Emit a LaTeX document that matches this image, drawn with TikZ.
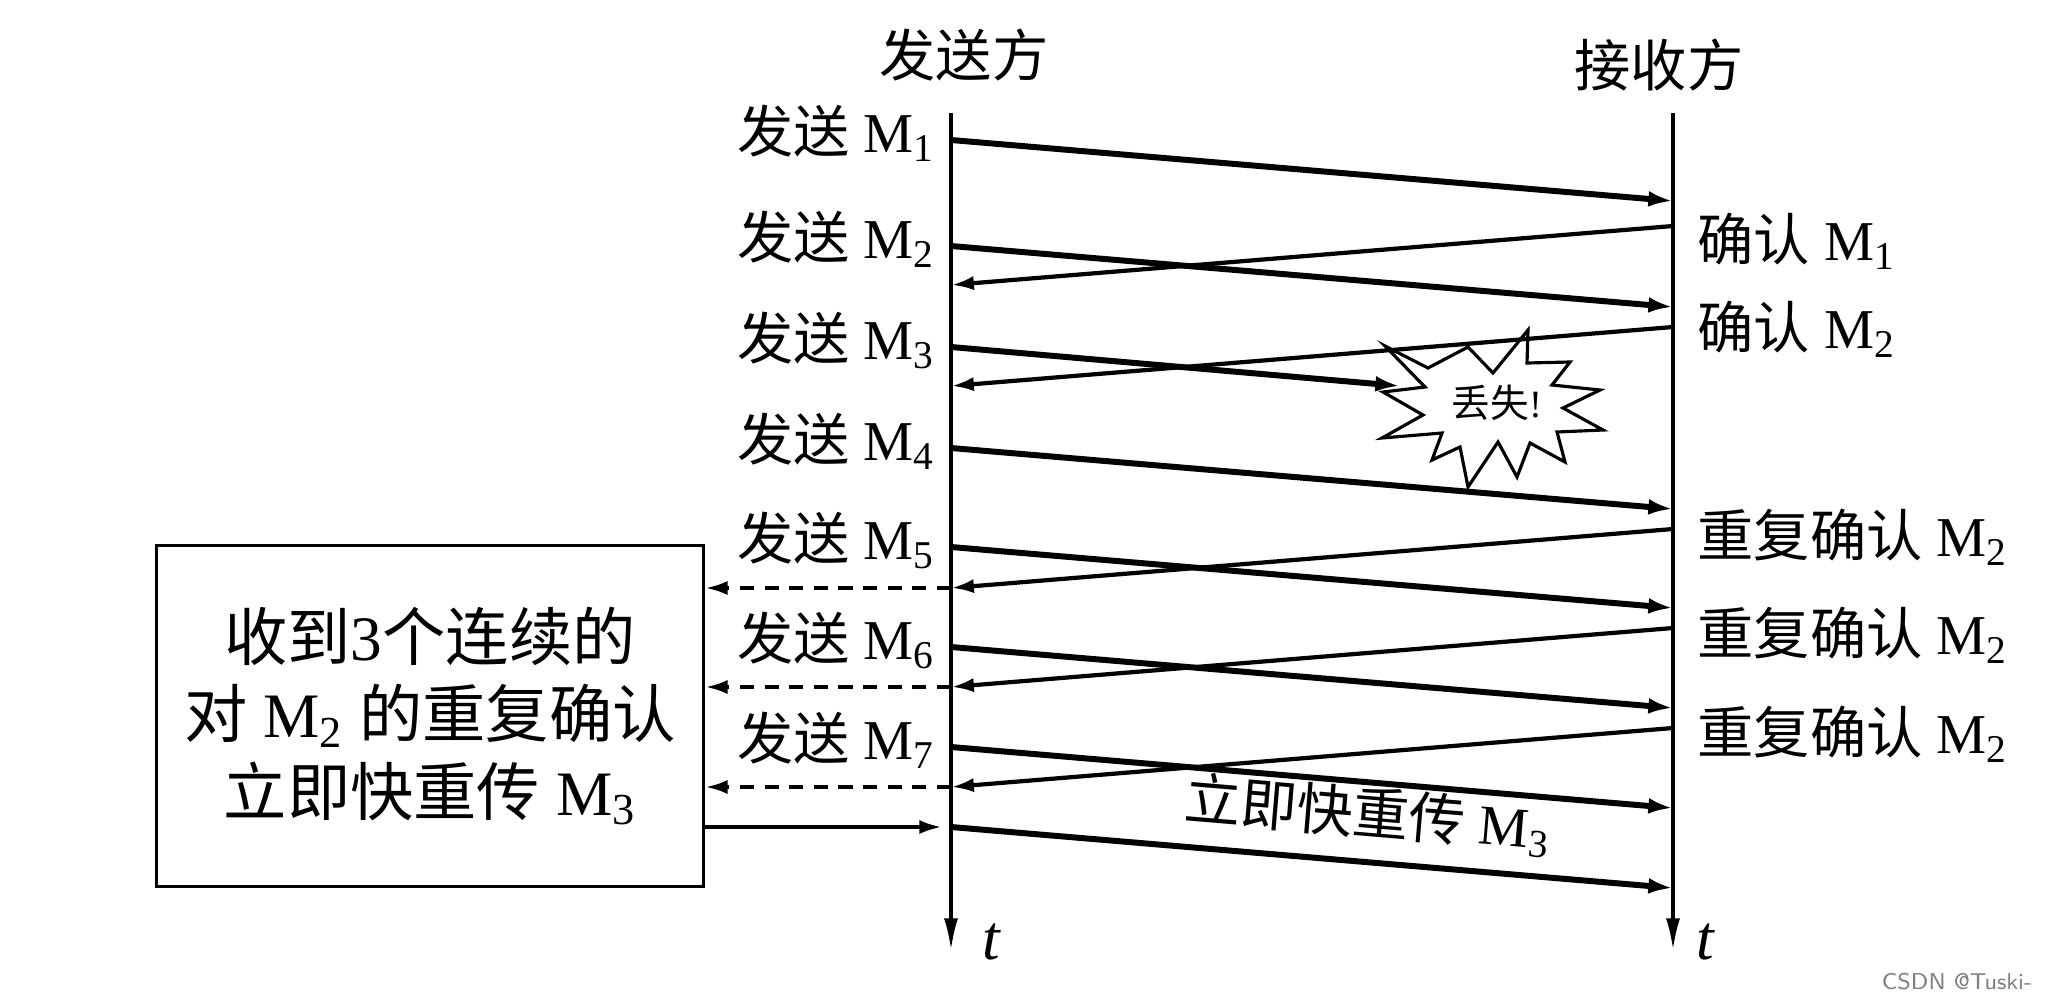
\documentclass[tikz,border=0pt]{standalone}
\usepackage{fontspec}
\setmainfont{Liberation Serif}
\newfontfamily\cjk{Noto Sans CJK SC}
\usetikzlibrary{arrows.meta}

\newcommand{\Msg}[1]{M\textsubscript{#1}}

\begin{document}
\begin{tikzpicture}[x=0.01cm, y=-0.01cm,
    timeline/.style={line width=0.9pt, -{Latex[length=9pt,width=4pt]}},
    sendline/.style={line width=1.7pt, -{Latex[length=7pt,width=4.5pt]}},
    ackline/.style={line width=1.2pt, -{Latex[length=6.5pt,width=4pt]}},
    dupline/.style={ackline, dash pattern=on 4pt off 3pt},
    lbl/.style={font=\fontsize{16}{18}\selectfont, inner sep=0pt},
    tlbl/.style={font=\fontsize{18}{20}\selectfont\itshape, inner sep=0pt},
    boxtext/.style={draw, line width=0.9pt, align=center, font=\fontsize{18}{22}\selectfont,
        minimum width=5.46cm, minimum height=3.41cm},
    burst/.style={draw, line width=0.9pt, fill=white, line join=miter}]
    % --- 定义坐标和参数 ---
    \def\sx{951}     % 发送方时间轴
    \def\rx{1673}    % 接收方时间轴
    \def\sdrop{61}   % 报文段下降量
    \def\adrop{59}   % 确认下降量

    \useasboundingbox (0,0) rectangle (2052,1000);

    % --- 时间轴 ---
    \coordinate (sTop) at (\sx,113);
    \coordinate (sEnd) at (\sx,950);
    \coordinate (rTop) at (\rx,113);
    \coordinate (rEnd) at (\rx,950);
    \draw[timeline] (sTop) -- (sEnd);
    \draw[timeline] (rTop) -- (rEnd);
    \node[tlbl] (sT) at (991,942) {t};
    \node[tlbl] (rT) at (1705,942) {t};

    % 标题
    \node[lbl] (sender) at (964,55) {\cjk 发送方};
    \node[lbl] (receiver) at (1659,65) {\cjk 接收方};

    % --- M3 丢失 ---
    \draw[burst] (1385,346) -- (1428,368) -- (1468,347) -- (1493,373) -- (1528,330)
        -- (1527,363) -- (1570,362) -- (1552,385) -- (1600,390) -- (1563,408)
        -- (1603,430) -- (1557,432) -- (1565,462) -- (1530,443) -- (1517,477)
        -- (1498,442) -- (1468,487) -- (1460,447) -- (1432,460) -- (1442,433)
        -- (1382,438) -- (1423,415) -- (1383,392) -- (1425,387) -- cycle;
    \node[font=\fontsize{11}{12}\selectfont, inner sep=0pt] (lost) at (1497,403) {{\cjk 丢失}!};

    % --- 发送报文段 ---
    \foreach \i/\y in {1/140,2/246,3/347,4/448,5/547,6/647,7/747} {
        \coordinate (snd\i) at (\sx,\y);
        \node[lbl, anchor=east] (sl\i) at (936,\y-7) {{\cjk 发送} \Msg{\i}};
    }
    \foreach \i/\y in {1/140,2/246,4/448,5/547,6/647,7/747} {
        \coordinate (rcv\i) at (\rx,\y+\sdrop);
        \draw[sendline] (snd\i) -- (rcv\i);
    }
    \coordinate (lostPt) at (1400,386);
    \draw[sendline] (snd3) -- (lostPt);

    % --- 确认 ---
    \foreach \j/\y in {1/226,2/327,3/529,4/628,5/728} {
        \coordinate (ackR\j) at (\rx,\y);
        \coordinate (ackS\j) at (\sx,\y+\adrop);
        \draw[ackline] (ackR\j) -- (ackS\j);
    }
    \node[lbl, anchor=west] (al1) at (1697,241) {{\cjk 确认} \Msg{1}};
    \node[lbl, anchor=west] (al2) at (1697,329) {{\cjk 确认} \Msg{2}};
    \foreach \j/\y in {3/537,4/635,5/734}
        \node[lbl, anchor=west] (al\j) at (1697,\y) {{\cjk 重复确认} \Msg{2}};

    % --- 快重传 ---
    \node[boxtext] (fastbox) at (430,716)
        {{\cjk 收到}3{\cjk 个连续的}\\{\cjk 对} \Msg{2} {\cjk 的重复确认}\\{\cjk 立即快重传} \Msg{3}};
    \foreach \j in {3,4,5}
        \draw[dupline] (ackS\j) -- (ackS\j -| fastbox.east);

    \coordinate (reSnd) at (\sx,827);
    \coordinate (reRcv) at (\rx,827+\sdrop);
    \draw[ackline, shorten >=2.5pt] (fastbox.east |- reSnd) -- (reSnd);
    \draw[sendline] (reSnd) -- (reRcv);
    \node[lbl, rotate=-4.8] (reLbl) at (1368,815) {{\cjk 立即快重传} \Msg{3}};

    \node[font=\fontsize{6.5}{8}\selectfont\sffamily, text=gray] (mark) at (1957,982) {CSDN @Tuski-};
\end{tikzpicture}
\end{document}
